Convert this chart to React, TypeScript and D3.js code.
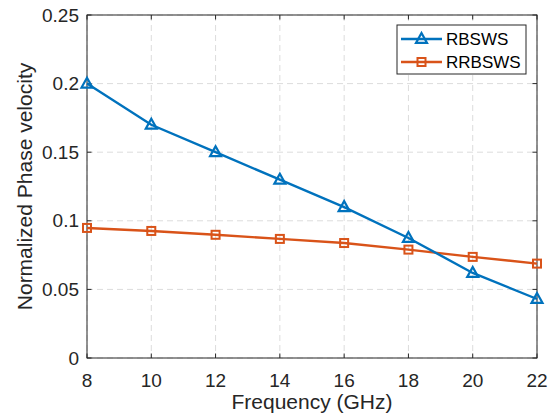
import React from "react";
import * as d3 from "d3";

const frequencies = [8, 10, 12, 14, 16, 18, 20, 22];
const rbsws = [0.2, 0.17, 0.15, 0.13, 0.11, 0.0875, 0.062, 0.043];
const rrbsws = [0.0948, 0.0926, 0.0898, 0.0868, 0.0838, 0.079, 0.0737, 0.0688];
const xTicks = [8, 10, 12, 14, 16, 18, 20, 22];
const yTicks = [0, 0.05, 0.1, 0.15, 0.2, 0.25];
const yTickLabels = ["0", "0.05", "0.1", "0.15", "0.2", "0.25"];
const seriesNames = ["RBSWS", "RRBSWS"];

const W = 556, H = 419;
const L = 87, R = 537, T = 15, B = 358;
const FONT = "'Liberation Sans', Arial, Helvetica, sans-serif";
const BLUE = "#0072BD";
const ORANGE = "#D95319";
const AX = "#262626";

function tri(cx: number, cy: number, s: number) {
  const h = s * 0.9;
  return `M${cx},${cy - h * 0.6}L${cx + s / 2},${cy + h * 0.4}L${cx - s / 2},${cy + h * 0.4}Z`;
}

export default function App() {
  const x = d3.scaleLinear().domain([8, 22]).range([L, R]);
  const y = d3.scaleLinear().domain([0, 0.25]).range([B, T]);
  const line = d3.line<[number, number]>().x(d => x(d[0])).y(d => y(d[1]));
  const d1 = frequencies.map((f, i) => [f, rbsws[i]] as [number, number]);
  const d2 = frequencies.map((f, i) => [f, rrbsws[i]] as [number, number]);
  const tl = 4.5;
  return (
    <svg width={W} height={H} style={{ position: "absolute", left: 0, top: 0, background: "#fff" }} fontFamily={FONT}>
      <rect x={0} y={0} width={W} height={H} fill="#fff" />
      {/* grid */}
      {xTicks.map(t => (
        <line key={"gx" + t} x1={x(t)} x2={x(t)} y1={T} y2={B} stroke="#dcdcdc" strokeWidth={1} strokeDasharray="6,4" />
      ))}
      {yTicks.map(t => (
        <line key={"gy" + t} x1={L} x2={R} y1={y(t)} y2={y(t)} stroke="#dcdcdc" strokeWidth={1} strokeDasharray="6,4" />
      ))}
      {/* ticks */}
      {xTicks.map(t => (
        <g key={"tx" + t}>
          <line x1={x(t)} x2={x(t)} y1={B} y2={B - tl} stroke={AX} />
          <line x1={x(t)} x2={x(t)} y1={T} y2={T + tl} stroke={AX} />
          <text x={x(t)} y={387} fontSize={19} fill={AX} textAnchor="middle">{t}</text>
        </g>
      ))}
      {yTicks.map((t, i) => (
        <g key={"ty" + t}>
          <line x1={L} x2={L + tl} y1={y(t)} y2={y(t)} stroke={AX} />
          <line x1={R} x2={R - tl} y1={y(t)} y2={y(t)} stroke={AX} />
          <text x={79} y={y(t)} dy="0.35em" fontSize={19} fill={AX} textAnchor="end">{yTickLabels[i]}</text>
        </g>
      ))}
      <rect x={L} y={T} width={R - L} height={B - T} fill="none" stroke={AX} strokeWidth={1} />
      {/* series */}
      <path d={line(d2) || ""} fill="none" stroke={ORANGE} strokeWidth={2.4} />
      {d2.map((d, i) => (
        <rect key={"s" + i} x={x(d[0]) - 4} y={y(d[1]) - 4} width={8} height={8} fill="none" stroke={ORANGE} strokeWidth={2} />
      ))}
      <path d={line(d1) || ""} fill="none" stroke={BLUE} strokeWidth={2.4} />
      {d1.map((d, i) => (
        <path key={"t" + i} d={tri(x(d[0]), y(d[1]), 11)} fill="none" stroke={BLUE} strokeWidth={2.2} />
      ))}
      {/* axis labels */}
      <text x={(L + R) / 2} y={409} fontSize={21} fill={AX} textAnchor="middle">Frequency (GHz)</text>
      <text transform={`translate(32,${(T + B) / 2}) rotate(-90)`} fontSize={21} fill={AX} textAnchor="middle">Normalized Phase velocity</text>
      {/* legend */}
      <rect x={397} y={25} width={129} height={49} fill="#fff" stroke={AX} strokeWidth={1} />
      <line x1={401} x2={442} y1={39} y2={39} stroke={BLUE} strokeWidth={2.4} />
      <path d={tri(421.5, 39, 11)} fill="none" stroke={BLUE} strokeWidth={2.2} />
      <text x={446} y={39} dy="0.35em" fontSize={17} fill="#000">{seriesNames[0]}</text>
      <line x1={401} x2={442} y1={62} y2={62} stroke={ORANGE} strokeWidth={2.4} />
      <rect x={421.5 - 4} y={62 - 4} width={8} height={8} fill="none" stroke={ORANGE} strokeWidth={2} />
      <text x={446} y={62} dy="0.35em" fontSize={17} fill="#000">{seriesNames[1]}</text>
    </svg>
  );
}
